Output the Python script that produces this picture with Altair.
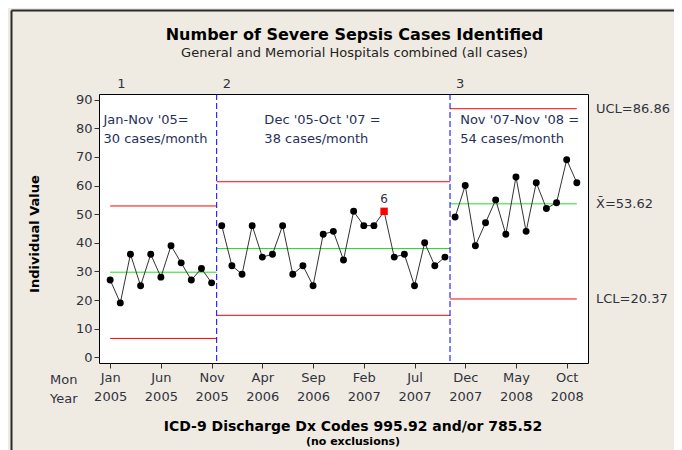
import json
import altair as alt
import pandas as pd

# ---------------- data ----------------
stage_names = ["1", "2", "3"]
stage1_values = [27, 19, 36, 25, 36, 28, 39, 33, 27, 31, 26]
stage2_values = [46, 32, 29, 46, 35, 36, 46, 29, 32, 25, 43, 44, 34, 51, 46, 46, 51, 35, 36, 25, 40, 32, 35]
stage3_values = [49, 60, 39, 47, 55, 43, 63, 44, 61, 52, 54, 69, 61]
stage_notes = [
    "Jan-Nov '05=\n30 cases/month",
    "Dec '05-Oct '07 =\n38 cases/month",
    "Nov '07-Nov '08 =\n54 cases/month",
]
ucl_values = [52.87, 61.34, 86.86]
center_values = [29.73, 38.00, 53.62]
lcl_values = [6.59, 14.66, 20.37]
flag_month_index = [27]
flag_labels = ["6"]
tick_index = [0, 5, 10, 15, 20, 25, 30, 35, 40, 45]
tick_months = ["Jan", "Jun", "Nov", "Apr", "Sep", "Feb", "Jul", "Dec", "May", "Oct"]
tick_years = ["2005", "2005", "2005", "2006", "2006", "2007", "2007", "2007", "2008", "2008"]
y_ticks = [0, 10, 20, 30, 40, 50, 60, 70, 80, 90]

title_text = "Number of Severe Sepsis Cases Identified"
subtitle_text = "General and Memorial Hospitals combined (all cases)"
x_title = "ICD-9 Discharge Dx Codes 995.92 and/or 785.52"
x_subtitle = "(no exclusions)"
y_title = "Individual Value"

# ---------------- layout / style ----------------
W, H = 489, 269
BG = "#EFEBE2"
TXT = "#2F3340"
NOTE = "#27305A"
FONT = "DejaVu Sans"
note_x = [-0.66, 15.2, 34.5]
note_y = 82.9
stage_label_x = [1.1, 11.5, 34.5]

# ---------------- tables ----------------
stage_values = [stage1_values, stage2_values, stage3_values]
rows, limit_rows, bounds, stage_label_rows, note_rows = [], [], [], [], []
i = 0
n_stages = len(stage_names)
for k, (s, vals) in enumerate(zip(stage_names, stage_values)):
    first = i
    for v in vals:
        rows.append({"i": i, "v": v, "stage": s, "flag": i in flag_month_index})
        i += 1
    last = i - 1
    x0 = first - 0.5 if k > 0 else first
    x1 = last + 0.5 if k < n_stages - 1 else last
    for kind, val in (("UCL", ucl_values[k]), ("CL", center_values[k]), ("LCL", lcl_values[k])):
        limit_rows.append({"x0": x0, "x1": x1, "val": val, "kind": kind, "stage": s})
    if k > 0:
        bounds.append({"b": first - 0.5})
    stage_label_rows.append({"sx": stage_label_x[k], "name": s})
    note_rows.append({"nx": note_x[k], "ny": note_y, "note": stage_notes[k]})

df = pd.DataFrame(rows)
limits = pd.DataFrame(limit_rows)
bounds_df = pd.DataFrame(bounds)
stage_lab = pd.DataFrame(stage_label_rows)
notes = pd.DataFrame(note_rows)
flags = pd.DataFrame({"i": flag_month_index, "lab": flag_labels})
flags["v"] = [df.loc[df["i"] == j, "v"].iloc[0] for j in flag_month_index]
right_labels = pd.DataFrame({
    "val": [ucl_values[-1], center_values[-1], lcl_values[-1]],
    "lab": [f"UCL={ucl_values[-1]:.2f}", f"X\u0304={center_values[-1]:.2f}", f"LCL={lcl_values[-1]:.2f}"],
})

xscale = alt.Scale(domain=[-1.1, 47.1], nice=False, zero=False)
yscale = alt.Scale(domain=[-2, 92], nice=False, zero=False)

ticks_js = json.dumps(tick_index)
label_expr = (f"[{json.dumps(tick_months)}[indexof({ticks_js}, datum.value)], "
              f"{json.dumps(tick_years)}[indexof({ticks_js}, datum.value)]]")

x_axis = alt.Axis(values=tick_index, labelExpr=label_expr, title=None, grid=False, domain=False,
                  tickSize=5, tickColor="#333333", labelFontSize=13, labelColor=TXT,
                  labelPadding=3, labelLineHeight=19, labelFlush=False, labelOverlap=False)
y_axis = alt.Axis(values=y_ticks, title=None, grid=False, domain=False, tickSize=5,
                  tickColor="#333333", labelFontSize=13, labelColor=TXT, labelPadding=2,
                  labelOverlap=False, labelFlush=False, tickCount=10)


def X(field):
    return alt.X(field, scale=xscale, axis=x_axis)


def Y(field):
    return alt.Y(field, scale=yscale, axis=y_axis)


limit_layer = alt.Chart(limits).mark_rule(strokeWidth=1).encode(
    x=X("x0:Q"),
    x2="x1:Q",
    y=Y("val:Q"),
    color=alt.Color("kind:N", scale=alt.Scale(domain=["UCL", "CL", "LCL"],
                                              range=["#FF0000", "#22DD22", "#FF0000"]), legend=None),
    detail="stage:N",
)

bound_layer = alt.Chart(bounds_df).mark_rule(color="#0000FF", strokeWidth=1, strokeDash=[6, 3]).encode(
    x=X("b:Q")
)

line_layer = alt.Chart(df).mark_line(color="#333333", strokeWidth=1).encode(
    x=X("i:Q"), y=Y("v:Q"), detail="stage:N",
)

point_layer = alt.Chart(df).transform_filter("!datum.flag").mark_circle(
    size=48, color="black", opacity=1).encode(x=X("i:Q"), y=Y("v:Q"))

flag_layer = alt.Chart(flags).mark_square(size=55, color="#FF0000", opacity=1).encode(
    x=X("i:Q"), y=Y("v:Q"))
flag_text = alt.Chart(flags).mark_text(fontSize=12, dy=-12, color=TXT).encode(
    x=X("i:Q"), y=Y("v:Q"), text="lab:N")

stage_text = alt.Chart(stage_lab).mark_text(fontSize=13, color=TXT, clip=False, baseline="middle").encode(
    x=X("sx:Q"), y=alt.value(-10), text="name:N")

note_text = alt.Chart(notes).mark_text(fontSize=13, color=NOTE, align="left", baseline="middle",
                                       lineBreak="\n", lineHeight=19).encode(
    x=X("nx:Q"), y=Y("ny:Q"), text="note:N")

right_text = alt.Chart(right_labels).mark_text(fontSize=13, color=TXT, align="left", baseline="middle",
                                               clip=False).encode(
    x=alt.value(W + 8), y=Y("val:Q"), text="lab:N")


def free_text(txt, x, y, **kw):
    return alt.Chart(pd.DataFrame({"t": [txt]})).mark_text(clip=False, **kw).encode(
        x=alt.value(x), y=alt.value(y), text="t:N")


titles = [
    free_text(title_text, 255.5, -59, fontSize=16, fontWeight="bold", color="#000000", baseline="middle"),
    free_text(subtitle_text, 255.5, -41, fontSize=13, color="#222222", baseline="middle"),
    free_text(x_title, 254, 333, fontSize=14, fontWeight="bold", color="#000000", baseline="middle"),
    free_text(x_subtitle, 254, 348, fontSize=11, fontWeight="bold", color="#000000", baseline="middle"),
    free_text(y_title, -64, 140, fontSize=13, fontWeight="bold", color="#000000", baseline="middle", angle=270),
    free_text("Mon", -21.5, 286, fontSize=13, color=TXT, align="right", baseline="middle"),
    free_text("Year", -21.5, 305, fontSize=13, color=TXT, align="right", baseline="middle"),
]

frame_top = alt.Chart(pd.DataFrame({"a": [0]})).mark_rule(color="#2B2B2B", strokeWidth=2, clip=False).encode(
    x=alt.value(-87.5), x2=alt.value(W + 90), y=alt.value(-83.5))
frame_left = alt.Chart(pd.DataFrame({"a": [0]})).mark_rule(color="#2B2B2B", strokeWidth=2, clip=False).encode(
    x=alt.value(-87.5), y=alt.value(-83.5), y2=alt.value(H + 120))

chart = alt.layer(
    limit_layer, bound_layer, line_layer, point_layer, flag_layer, flag_text,
    stage_text, note_text, right_text, *titles, frame_top, frame_left,
).properties(
    width=W, height=H,
    autosize=alt.AutoSizeParams(type="none"),
    padding={"left": 91, "top": 86, "right": 86, "bottom": 87},
    background=BG,
).configure(font=FONT).configure_view(stroke="#000000", strokeWidth=1, fill="white")

chart.save("out.html", embed_options={"renderer": "svg", "actions": False})
